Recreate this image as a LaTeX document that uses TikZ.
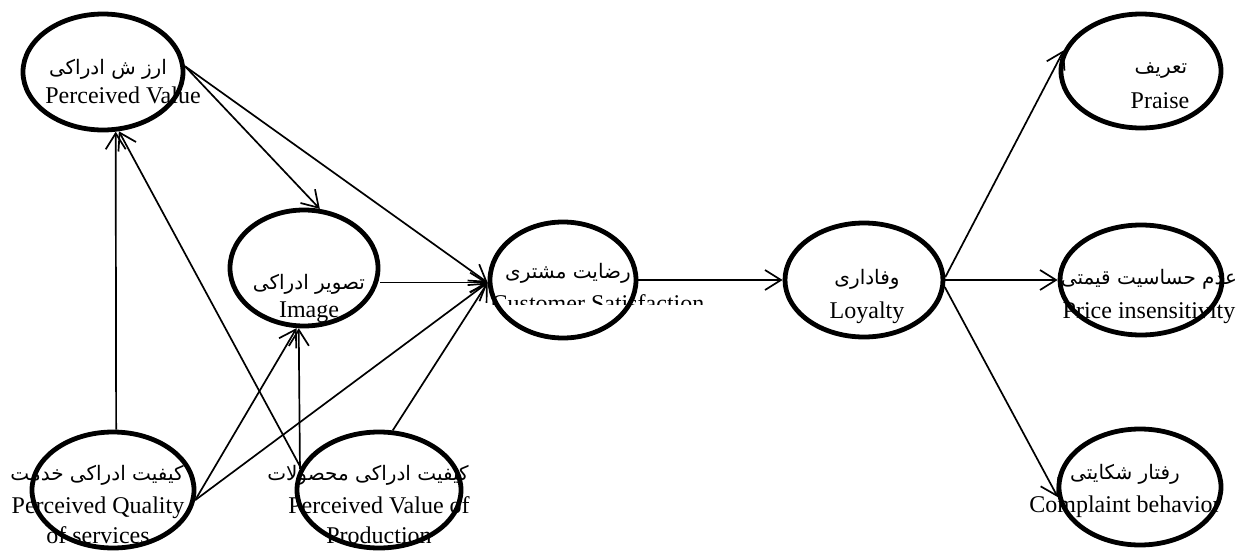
\documentclass[tikz,border=0pt]{standalone}
\usepackage{fontspec}
\setmainfont{Liberation Serif}
\newfontfamily\farsifont[Script=Arabic]{DejaVu Sans}
\TeXXeTstate=1
\usetikzlibrary{arrows.meta,shapes.geometric}

\begin{document}
\begin{tikzpicture}[x=0.5pt, y=-0.5pt,
    construct/.style={ellipse, draw, line width=2.4pt, inner sep=0pt},
    en/.style={anchor=base, align=center, font=\fontsize{12}{15}\selectfont},
    fa/.style={anchor=base, font=\fontsize{10}{12}\farsifont},
    arr/.style={-{Straight Barb[length=8pt,width=10pt]}, line width=0.85pt}]
  \useasboundingbox (0,0) rectangle (1244,552);

  % labels (two-line nodes sit on their last baseline)
  \node[fa] (pv-fa) at (108,74) {\beginR ارز ش ادراکی\endR};
  \node[en] (pv-en) at (123,103) {Perceived Value};
  \node[fa] (img-fa) at (309,289) {\beginR تصویر ادراکی\endR};
  \node[en] (img-en) at (309,317) {Image};
  \node[fa] (cs-fa) at (568,278) {\beginR رضایت مشتری\endR};
  \begin{scope}
    \clip (470,250) rectangle (720,304);
    \node[en] (cs-en) at (598,311) {Customer Satisfaction};
  \end{scope}
  \node[fa] (loy-fa) at (867,284) {\beginR وفاداری\endR};
  \node[en] (loy-en) at (867,318) {Loyalty};
  \node[fa] (pr-fa) at (1161,73) {\beginR تعریف\endR};
  \node[en] (pr-en) at (1160,108) {Praise};
  \node[fa] (pi-fa) at (1149,284) {\beginR عدم حساسیت قیمتی\endR};
  \node[en] (pi-en) at (1149,318) {Price insensitivity};
  \node[fa] (cb-fa) at (1125,479) {\beginR رفتار شکایتی\endR};
  \node[en] (cb-en) at (1125,512) {Complaint behavior};
  \node[fa] (pqs-fa) at (97,480) {\beginR کیفیت ادراکی خدمت\endR};
  \node[en] (pqs-en) at (98,543) {Perceived Quality\\of services};
  \node[fa] (pvp-fa) at (368,480) {\beginR کیفیت ادراکی محصولات\endR};
  \node[en] (pvp-en) at (379,543) {Perceived Value of\\Production};

  % constructs
  \node[construct, minimum width=80pt, minimum height=58pt] (pv) at (103,72) {};
  \node[construct, minimum width=74pt, minimum height=58pt] (img) at (304,268) {};
  \node[construct, minimum width=73pt, minimum height=58pt] (cs) at (563,280) {};
  \node[construct, minimum width=79pt, minimum height=57pt] (loy) at (864,280) {};
  \node[construct, minimum width=80pt, minimum height=57pt] (pr) at (1141,71) {};
  \node[construct, minimum width=81pt, minimum height=55pt] (pi) at (1141,280) {};
  \node[construct, minimum width=81pt, minimum height=58pt] (cb) at (1140,487) {};
  \node[construct, minimum width=81pt, minimum height=58pt] (pqs) at (113,490) {};
  \node[construct, minimum width=82pt, minimum height=58pt] (pvp) at (379,490) {};

  % paths
  \draw[arr] (pqs.87) -- (pv.282);
  \draw[arr] (pvp.164) -- (pv.285);
  \draw[arr] (pv.4) -- (img.75);
  \draw[arr] (pv.4) -- (cs.182);
  \draw[arr] (img.east |- cs.182) -- (cs.182);
  \draw[arr] (pqs.353) -- (img.263);
  \draw[arr] (pqs.353) -- (cs.182);
  \draw[arr] (pvp.165) -- (img.265);
  \draw[arr] (pvp.77) -- (cs.182);
  \draw[arr] (cs) -- (loy);
  \draw[arr] (loy.2) -- (pr.165);
  \draw[arr] (loy) -- (pi);
  \draw[arr] (loy.355) -- (cb.187);
\end{tikzpicture}
\end{document}
